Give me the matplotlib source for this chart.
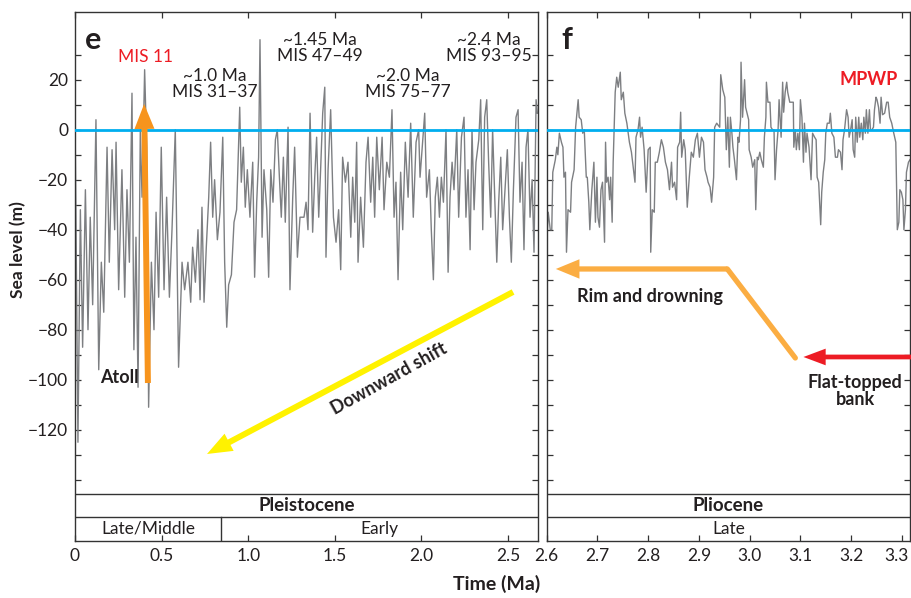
import matplotlib.pyplot as plt
from matplotlib.patches import FancyArrowPatch
from matplotlib.ticker import FuncFormatter
from matplotlib.transforms import ScaledTranslation

plt.rcParams['font.family'] = ['Lato', 'DejaVu Sans']

# ---- sea-level record, panel e (0-2.67 Ma) ----
AGE_E = [
    0.000, 0.017, 0.031, 0.044, 0.060, 0.075, 0.088, 0.102, 0.121, 0.137,
    0.152, 0.166, 0.185, 0.198, 0.214, 0.229, 0.237, 0.252, 0.271, 0.287,
    0.300, 0.314, 0.329, 0.340, 0.352, 0.364, 0.377, 0.387, 0.402, 0.414,
    0.425, 0.441, 0.456, 0.468, 0.483, 0.498, 0.514, 0.529, 0.545, 0.560,
    0.579, 0.598, 0.618, 0.633,
    0.652, 0.668, 0.679, 0.695, 0.710, 0.722, 0.733, 0.745, 0.758, 0.772,
    0.783, 0.795, 0.806, 0.822, 0.837, 0.853, 0.864, 0.876, 0.887, 0.903,
    0.918, 0.933, 0.951, 0.960, 0.972, 0.983, 0.995, 1.010, 1.026, 1.037,
    1.049, 1.060, 1.068, 1.080, 1.091, 1.107, 1.118, 1.130, 1.143, 1.157,
    1.168, 1.180, 1.191, 1.203, 1.214, 1.230, 1.241, 1.257, 1.268, 1.284,
    1.299,
    1.322, 1.334, 1.345, 1.357, 1.372, 1.384, 1.395, 1.407, 1.418, 1.430,
    1.442, 1.449, 1.461, 1.476, 1.492, 1.507, 1.522, 1.534, 1.545, 1.561,
    1.576, 1.592, 1.603, 1.615, 1.626, 1.634, 1.649, 1.665, 1.680, 1.692,
    1.707, 1.719, 1.730, 1.742, 1.757, 1.773, 1.784, 1.800, 1.815, 1.830,
    1.842, 1.853, 1.865, 1.880, 1.892, 1.907, 1.923, 1.938, 1.953, 1.969,
    1.984,
    1.992, 2.007, 2.019, 2.030, 2.046, 2.057, 2.069, 2.080, 2.092, 2.104,
    2.115, 2.127, 2.142, 2.154, 2.165, 2.177, 2.188, 2.204, 2.215, 2.231,
    2.246, 2.257, 2.269, 2.281, 2.292, 2.304, 2.315, 2.331, 2.342, 2.354,
    2.365, 2.377, 2.388, 2.400, 2.411, 2.423, 2.435, 2.446, 2.458, 2.469,
    2.485, 2.496, 2.508, 2.519, 2.531, 2.546, 2.558, 2.569, 2.581, 2.592,
    2.604, 2.615, 2.627, 2.639, 2.650, 2.662, 2.669,
]
SL_E = [
    6.6, -125, -32, -87, -24, -80, -35, -70, 4, -96,
    -53, -73, -7, -53, -8, -40, -5, -64, -16, -67,
    -24, -53, 14.6, -88, -43, -103, 0, -27, 24, -7,
    -111, -53, -80, -33, -67, -7, -64, -27, -67, -40,
    0, -95, -53, -64,
    -53, -69, -47, -61, -40, -68, -31, -69, -47, -27,
    -5, -35, -20, -44, -33, -3, -53, -79, -62, -58,
    -37, -32, 9, -21, -7, -31, -16, -35, -13, -59,
    -29, -11, 36, -43, -16, -32, -59, -16, -29, -4,
    0, -19, -35, -11, -37, 1, -64, -27, -7, -51,
    -35,
    -35, -29, -40, 6.6, -41, -19, -3, -35, -16, 6.6,
    17, -51, -16, 8, -35, -45, -32, -56, -11, -21,
    -13, -43, -19, -37, -5, -53, -27, -47, -13, -3,
    -29, -11, -35, -3, -24, -3, -32, -13, -19, 8,
    -35, -21, -60, -17, -40, -5, -27, 2.6, -35, -5,
    0,
    -19, -5, 6.6, -27, -16, -40, -60, -27, -19, -35,
    -19, -29, 0, -57, -27, -13, -24, 0, -35, -3,
    5, -35, -16, -48, 0, -32, -13, -4, 12, -40,
    5, 12, -13, -35, 0, -27, -53, -29, -11, -40,
    -21, -8, -35, -53, -24, 5, 8, -29, -13, -48,
    -7, 0, -35, -20, -49, 12, 6.6,
]

# ---- sea-level record, panel f (2.6-3.32 Ma) ----
AGE_F = [
    2.600, 2.603, 2.607, 2.610, 2.612, 2.617, 2.620, 2.622, 2.625, 2.629,
    2.632, 2.634, 2.637, 2.639, 2.642, 2.647, 2.649, 2.654, 2.657, 2.662,
    2.664, 2.668, 2.671, 2.674, 2.678, 2.680, 2.683, 2.685, 2.689, 2.693,
    2.696, 2.699, 2.701, 2.704, 2.707, 2.710, 2.714, 2.716, 2.718, 2.721,
    2.724, 2.726, 2.729, 2.731, 2.735, 2.738, 2.741, 2.745, 2.747, 2.751,
    2.754, 2.758, 2.763, 2.767, 2.774, 2.776, 2.780, 2.783, 2.785, 2.788,
    2.792, 2.796, 2.800, 2.804, 2.805, 2.808, 2.812, 2.814, 2.818, 2.822,
    2.826, 2.830, 2.834, 2.838, 2.842, 2.846, 2.848, 2.852, 2.856, 2.858,
    2.862, 2.864, 2.866, 2.870, 2.873, 2.877, 2.881, 2.885, 2.889, 2.893,
    2.897, 2.901, 2.905, 2.909, 2.912, 2.916, 2.918, 2.922, 2.925, 2.929,
    2.931, 2.935, 2.941, 2.943, 2.947, 2.951,
    2.954, 2.957, 2.960, 2.962, 2.965, 2.967, 2.970, 2.974, 2.977, 2.979,
    2.982, 2.983, 2.986, 2.990, 2.992, 2.998, 2.999, 3.003, 3.006, 3.010,
    3.012, 3.015, 3.017, 3.020, 3.023, 3.027, 3.029, 3.032, 3.033, 3.036,
    3.040, 3.042, 3.045, 3.048, 3.050, 3.053, 3.056, 3.058, 3.062, 3.065,
    3.067, 3.070, 3.073, 3.075, 3.079, 3.082, 3.086, 3.087, 3.090, 3.092,
    3.095, 3.098, 3.100, 3.103, 3.106, 3.108, 3.111, 3.113, 3.117, 3.121,
    3.124, 3.128, 3.131, 3.133, 3.136, 3.140, 3.142, 3.145, 3.148, 3.150,
    3.153, 3.157, 3.159, 3.162, 3.166, 3.169, 3.173, 3.175, 3.179, 3.182,
    3.184, 3.187, 3.191, 3.194, 3.196, 3.199, 3.202, 3.204, 3.207, 3.209,
    3.212, 3.215, 3.217, 3.220, 3.223, 3.225, 3.228, 3.230, 3.233, 3.236,
    3.238, 3.241, 3.244, 3.246, 3.249, 3.251, 3.254, 3.257, 3.259, 3.262,
    3.266, 3.270, 3.273, 3.276, 3.280, 3.284, 3.288, 3.291, 3.294, 3.296,
    3.299, 3.302, 3.304, 3.307, 3.309, 3.313, 3.316,
]
SL_F = [
    -45, -33, -40, -40, -17, -12, -7, -10, -1.4, -5,
    -7, -19, -17, -49, -32, -33, -21, -16, 1, 12,
    5, 4, -1.4, 0, -19, -19, -29, -40, -24, -13,
    -37, -19, -35, -39, -24, -21, -45, -5, -21, -19,
    -28, -19, -37, -13, 15, 21, 17, 23, 12, 15,
    6.6, 2.6, -5, -9, -21, -3, 0, 5, -3, 1,
    -8, -25, -8, -7, -49, -32, -33, -13, -13, -9,
    -4, -7, -13, -16, -24, -13, -23, -21, -28, -7,
    -5, 7, -11, -4, -8, -31, -19, -9, -11, -4,
    -1.4, -11, -3, -5, -16, -19, -21, -23, -29, -19,
    1, 2.6, 1, 22, 16, 13,
    -8, 5, -15, 5, -1.4, -7, -12, -20, -3, -5,
    4, 27, 5, 20, 9, 4, -8, -11, -15, -12,
    -32, -11, -12, -9, -12, -15, -3, 5, 19, 11,
    11, 1, 0, 0, -20, -8, 0, 12, -3, 19,
    7, 15, 19, 15, 11, 11, 11, -7, 0, -8,
    -1.4, -8, 12, 5, -13, 2.6, -9, -1.4, -7, -20,
    -1.4, -3, -4, -19, -21, -38, -25, -17, -12, -1.4,
    2.6, 2.6, 6.6, -1.4, -3, -11, -11, -8, -9, -16,
    -4, 0, 8, 5, -3, 0, 4, -8, -11, 5,
    -5, 5, -3, 2.6, -4, 5, -1.4, 8, -1.4, 8,
    0, 0, 1, 8, 13, 12, 9, 2.6, 13, 6,
    6.6, 11, 11, 5, 2.6, -1.4, -5, -40, -37, -24,
    -25, -28, -40, -32, -17, -13, -12,
]

# geological time scale
LATE_MIDDLE_END = 0.843   # Ma, Late/Middle - Early Pleistocene boundary
XLIM_E = (0.0, 2.673)
XLIM_F = (2.6, 3.316)
XTICKS_E = [0, 0.5, 1.0, 1.5, 2.0, 2.5]
XTICKS_F = [2.6, 2.7, 2.8, 2.9, 3.0, 3.1, 3.2, 3.3]

GREY = '#7d7f82'
BLUE = '#00aeef'
INK = '#231f20'
RED = '#ed1c24'

YLIM = (-164.5, 47.2)
EPOCH_TOP = -145.7
STAGE_TOP = -154.9

W, H = 912, 598
fig = plt.figure(figsize=(W / 100, H / 100), dpi=100)
top, bottom = 11.7, 541
ax_e = fig.add_axes([75 / W, 1 - bottom / H, (538 - 75) / W, (bottom - top) / H])
ax_f = fig.add_axes([546.7 / W, 1 - bottom / H, (910 - 546.7) / W, (bottom - top) / H])


def ylab(v, _):
    if v % 20 == 0 and -120 <= v <= 20:
        return f'{v:.0f}'.replace('-', '\u2212')
    return ''


def style(ax, xlim, xticks):
    ax.set_xlim(*xlim)
    ax.set_ylim(*YLIM)
    ax.set_xticks(xticks)
    ax.set_xticklabels(['0' if t == 0 else f'{t:.1f}' for t in xticks])
    ax.set_yticks(range(-140, 31, 10))
    ax.yaxis.set_major_formatter(FuncFormatter(ylab))
    ax.tick_params(direction='in', length=4, width=0.9, color='#333333',
                   top=True, right=True, labelsize=12.5, labelcolor=INK, pad=5)
    for s in ax.spines.values():
        s.set_linewidth(1.0)
        s.set_color('#333333')
    ax.axhline(EPOCH_TOP, color='#333333', lw=1.0)
    ax.axhline(STAGE_TOP, color='#333333', lw=1.0)


style(ax_e, XLIM_E, XTICKS_E)
style(ax_f, XLIM_F, XTICKS_F)
ax_f.tick_params(labelleft=False)
# keep the last label of panel f inside the figure edge
last = ax_f.get_xticklabels()[-1]
last.set_transform(last.get_transform() + ScaledTranslation(-4 / 72, 0, fig.dpi_scale_trans))

for ax, age, sl in ((ax_e, AGE_E, SL_E), (ax_f, AGE_F, SL_F)):
    ax.plot(age, sl, color=GREY, lw=1.0, zorder=2)
    ax.axhline(0, color=BLUE, lw=2.0, zorder=3)

# time scale boxes
mid_epoch = (EPOCH_TOP + STAGE_TOP) / 2
mid_stage = (STAGE_TOP + YLIM[0]) / 2
ax_e.plot([LATE_MIDDLE_END] * 2, [STAGE_TOP, YLIM[0]], color='#333333', lw=1.0)
ax_e.text(sum(XLIM_E) / 2, mid_epoch, 'Pleistocene', ha='center', va='center',
          fontsize=13.5, fontweight='bold', color=INK)
ax_e.text(LATE_MIDDLE_END / 2, mid_stage, 'Late/Middle', ha='center', va='center',
          fontsize=12.5, color=INK)
ax_e.text((LATE_MIDDLE_END + XLIM_E[1]) / 2, mid_stage, 'Early', ha='center',
          va='center', fontsize=12.5, color=INK)
ax_f.text(sum(XLIM_F) / 2, mid_epoch, 'Pliocene', ha='center', va='center',
          fontsize=13.5, fontweight='bold', color=INK)
ax_f.text(sum(XLIM_F) / 2, mid_stage, 'Late', ha='center', va='center',
          fontsize=12.5, color=INK)

# panel letters
ax_e.text(0.039, 0.947, 'e', transform=ax_e.transAxes, ha='center', va='center',
          fontsize=22, fontweight='bold', color=INK)
ax_f.text(0.056, 0.947, 'f', transform=ax_f.transAxes, ha='center', va='center',
          fontsize=22, fontweight='bold', color=INK)

# interglacial labels
ax_e.text(0.405, 29.1, 'MIS 11', ha='center', va='center', fontsize=12.5, color=RED)
for t, y, lab in ((0.808, 18.3, '~1.0 Ma\nMIS 31\u201337'),
                  (1.415, 32.7, '~1.45 Ma\nMIS 47\u201349'),
                  (1.923, 18.3, '~2.0 Ma\nMIS 75\u201377'),
                  (2.390, 32.7, '~2.4 Ma\nMIS 93\u201395')):
    ax_e.text(t, y, lab, ha='center', va='center', fontsize=12.5, color=INK,
              linespacing=1.0)
ax_f.text(3.234, 19.9, 'MPWP', ha='center', va='center', fontsize=13,
          fontweight='bold', color=RED)


def arrow(ax, tail, tip, color, tail_w, head_l, head_w):
    style_str = f'simple,head_length={head_l},head_width={head_w},tail_width={tail_w}'
    ax.add_patch(FancyArrowPatch(tail, tip, arrowstyle=style_str, mutation_scale=1,
                                 color=color, lw=0, shrinkA=0, shrinkB=0,
                                 zorder=5, clip_on=False))


# panel e arrows
arrow(ax_e, (0.421, -101.3), (0.399, 10.3), '#f7941d', 4.3, 18, 14.4)
ax_e.text(0.258, -99.3, 'Atoll', ha='center', va='center', fontsize=13,
          fontweight='bold', color=INK)
arrow(ax_e, (2.529, -64.9), (0.762, -129.7), '#fff200', 4.3, 18, 14)
ax_e.text(1.816, -99.5, 'Downward shift', ha='center', va='center', fontsize=13,
          fontweight='bold', color=INK, rotation=29, rotation_mode='anchor')

# panel f arrows
ORANGE2 = '#fbad42'
ax_f.plot([3.090, 2.956], [-91.3, -55.7], color=ORANGE2, lw=3.8,
          solid_capstyle='round', zorder=5)
arrow(ax_f, (2.956, -55.7), (2.618, -55.7), ORANGE2, 3.8, 17, 14)
ax_f.text(2.804, -66.7, 'Rim and drowning', ha='center', va='center', fontsize=13,
          fontweight='bold', color=INK)
arrow(ax_f, (3.320, -90.9), (3.106, -90.9), RED, 3.4, 16, 12)
ax_f.text(3.208, -104.5, 'Flat-topped\nbank', ha='center', va='center', fontsize=13,
          fontweight='bold', color=INK, linespacing=1.0)

fig.text(18 / W, 1 - 250 / H, 'Sea level (m)', rotation=90, ha='center', va='center',
         fontsize=12.5, fontweight='bold', color=INK)
fig.text(497 / W, 1 - 584 / H, 'Time (Ma)', ha='center', va='center',
         fontsize=14, fontweight='bold', color=INK)

fig.savefig('out.png', dpi=100)
